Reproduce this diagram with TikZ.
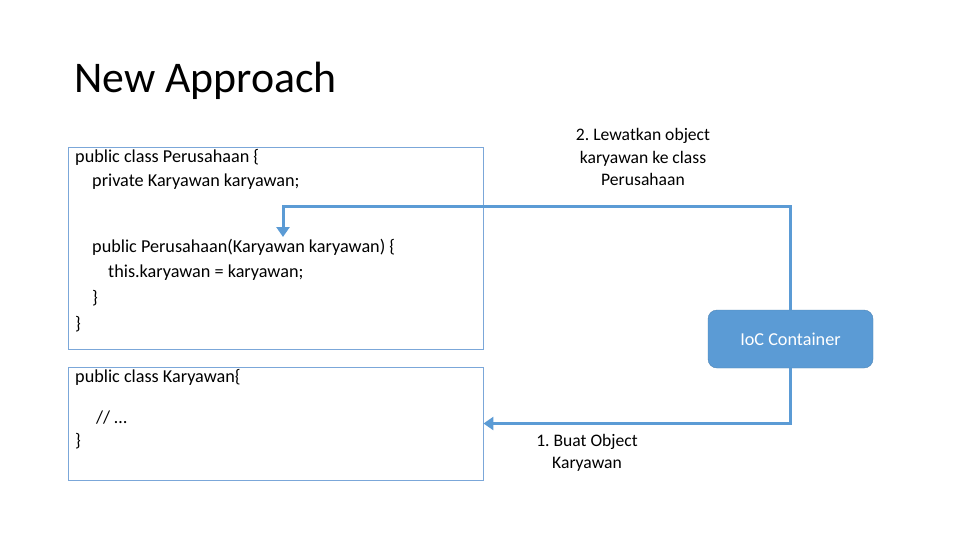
\documentclass[tikz,border=0pt]{standalone}
\usepackage{fontspec}
\setmainfont{Carlito}
\frenchspacing
\usetikzlibrary{arrows.meta}
\definecolor{kotak}{HTML}{7BA7D9}
\definecolor{biru}{HTML}{5B9BD5}
\tikzset{
  codebox/.style={draw=kotak,line width=0.9pt,rectangle,inner sep=0pt},
  kode/.style={anchor=west,inner sep=0pt,font=\fontsize{18.2}{20}\selectfont},
  label/.style={align=center,inner sep=0pt,font=\fontsize{17.6}{22.5}\selectfont},
  panah/.style={draw=biru,line width=3pt,-{Triangle[length=10pt,width=13pt]}},
  wadah/.style={rectangle,rounded corners=9pt,fill=biru,draw=biru!85!black,line width=0.4pt,
    text=white,minimum width=165pt,minimum height=58pt,font=\fontsize{18.2}{20}\selectfont}
}
\begin{document}
\begin{tikzpicture}[x=1pt,y=-1pt]
  \useasboundingbox[fill=white] (0,0) rectangle (980,550);
  \node[anchor=west,inner sep=0pt,font=\fontsize{43.8}{50}\selectfont] (judul) at (74,81) {New Approach};

  \node[codebox,minimum width=415pt,minimum height=202pt] (perusahaan) at (275.5,248) {};
  \node[kode] (p1) at (75,157) {public class Perusahaan \{};
  \node[kode] (p2) at (92,182) {private Karyawan karyawan;};
  \node[kode] (p3) at (92,247) {public Perusahaan(Karyawan karyawan) \{};
  \node[kode] (p4) at (108,273) {this.karyawan = karyawan;};
  \node[kode] (p5) at (92,298) {\}};
  \node[kode] (p6) at (75,324) {\}};

  \node[codebox,minimum width=415pt,minimum height=113pt] (karyawan) at (275.5,423.5) {};
  \node[kode] (k1) at (75,377) {public class Karyawan\{};
  \node[kode] (k2) at (96,418) {// …};
  \node[kode] (k3) at (75,441) {\}};

  \node[wadah] (ioc) at (790.5,339) {IoC Container};

  \coordinate (belok) at (790.5,206);
  \coordinate (masuk) at (283,237);
  \draw[panah] (ioc.north) -- (belok) -| (masuk);
  \draw[panah] (ioc.south) |- (karyawan.east);

  \node[label] (langkah2) at (643,157) {2. Lewatkan object\\karyawan ke class\\Perusahaan};
  \node[label] (langkah1) at (587,453) {1. Buat Object\\Karyawan};
\end{tikzpicture}
\end{document}
